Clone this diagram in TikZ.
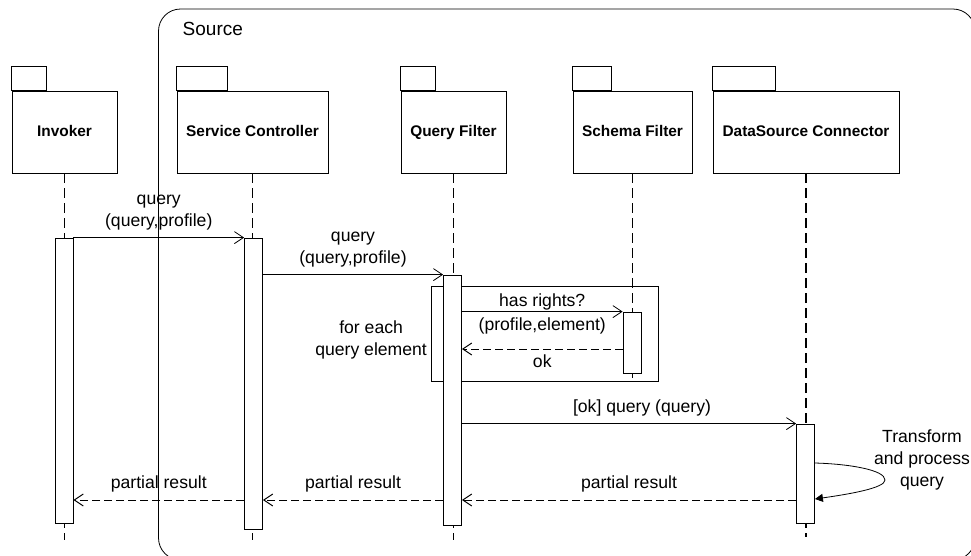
\documentclass[tikz,border=0pt]{standalone}
\usepackage{fontspec}
\setmainfont{Liberation Sans}
\usetikzlibrary{arrows.meta}

\begin{document}
\begin{tikzpicture}[x=1pt, y=-1pt, line width=0.8pt,
    pkg/.style={draw, minimum height=82, inner sep=0, text height=11pt, text depth=3pt,
      font=\fontsize{15.4}{18}\selectfont\bfseries},
    bar/.style={draw, fill=white, minimum width=18, inner sep=0},
    lifeline/.style={line width=1.5pt, dash pattern=on 10pt off 5pt},
    msg/.style={-{Straight Barb[length=9pt, width=12pt]}},
    reply/.style={msg, line width=1pt, dash pattern=on 8pt off 4pt},
    txt/.style={font=\fontsize{17.6}{22}\selectfont, align=center}]
    \useasboundingbox (0,0) rectangle (971,555);

    \begin{scope}
      \clip (0,0) rectangle (971,555);
      \draw [rounded corners=22] (158.5,9) rectangle (975,560);
    \end{scope}
    \node [txt, anchor=west, font=\fontsize{19}{22}\selectfont] (src) at (179,29) {Source};

    % packages
    \node [pkg, minimum width=105] (inv) at (64.5,132) {Invoker};
    \node [pkg, minimum width=151] (sc) at (252.5,132) {Service Controller};
    \node [pkg, minimum width=105] (qf) at (453.5,132) {Query Filter};
    \node [pkg, minimum width=119] (sf) at (632.5,132) {Schema Filter};
    \node [pkg, minimum width=186] (dsc) at (806,132) {DataSource Connector};
    \foreach \n/\w in {inv/35, sc/51, qf/35, sf/39, dsc/63}
      \draw (\n.north west) rectangle ++(\w,-24);

    \foreach \n/\e in {inv/540, sc/540, qf/540, sf/381, dsc/537}
      \draw [lifeline] (\n.south) -- (\n.south |- 0,\e);

    \node [draw, minimum width=227, minimum height=95, inner sep=0] (loop) at (544.5,333.5) {};
    \node [txt, anchor=east] (each) at (loop.west |- 0,340) {for each\\query element};

    % activations
    \node [bar, minimum height=285] (invbar) at (64,380.5) {};
    \node [bar, minimum height=291] (scbar) at (253.5,383.5) {};
    \node [bar, minimum height=250] (qfbar) at (452.5,400) {};
    \node [bar, minimum height=61] (sfbar) at (632,342.5) {};
    \node [bar, minimum height=99] (dscbar) at (805.5,473.5) {};

    \draw [msg] (invbar.north east) -- node [txt, above=4pt] {query\\(query,profile)} (scbar.north west);
    \draw [msg] (scbar.east |- qfbar.north) -- node [txt, above=4pt] {query\\(query,profile)} (qfbar.north west);
    \draw [msg] (qfbar.east |- sfbar.north) -- node [txt, above, inner sep=1pt] {has rights?}
      node [txt, below=2pt] {(profile,element)} (sfbar.north west);
    \coordinate (ok) at (632,349);
    \draw [reply] (sfbar.west |- ok) -- node [txt, below=2pt] {ok} (qfbar.east |- ok);
    \draw [msg] (qfbar.east |- dscbar.north) -- node [txt, above=4pt, xshift=13pt] {[ok] query (query)} (dscbar.north west);

    \draw [-{Triangle[length=8pt, width=8pt]}] (dscbar.east |- 0,463) .. controls (850,464) and (885,470) .. (885,480)
      .. controls (885,488) and (850,494) .. (dscbar.east |- 0,499);
    \node [txt] (tpq) at (922,460) {Transform\\and process\\query};

    \coordinate (res) at (0,500);
    \draw [reply] (dscbar.west |- res) -- node [txt, above=4pt] {partial result} (qfbar.east |- res);
    \draw [reply] (qfbar.west |- res) -- node [txt, above=4pt] {partial result} (scbar.east |- res);
    \draw [reply] (scbar.west |- res) -- node [txt, above=4pt] {partial result} (invbar.east |- res);
  \end{tikzpicture}
\end{document}
